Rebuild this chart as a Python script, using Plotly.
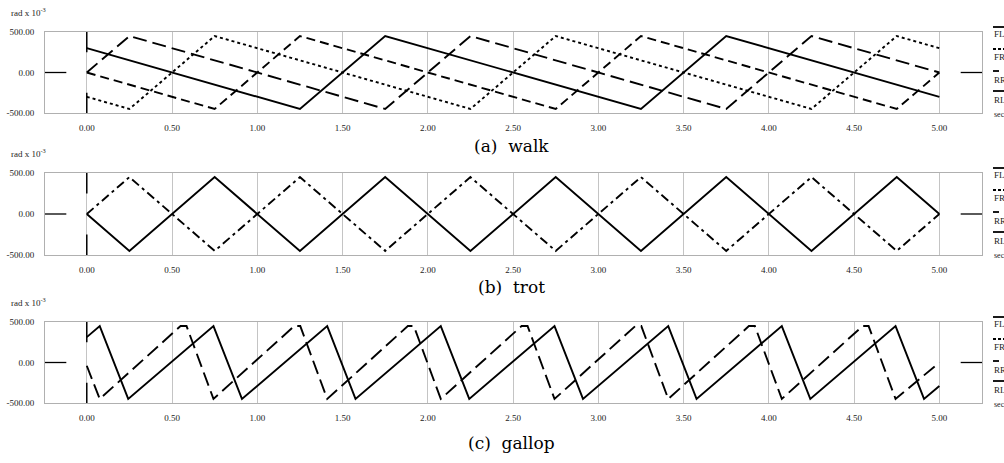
import plotly.graph_objects as go

W, H = 1004, 463

# ---------------- data ----------------
x_ticks = [0.0, 0.5, 1.0, 1.5, 2.0, 2.5, 3.0, 3.5, 4.0, 4.5, 5.0]
x_tick_labels = ["0.00", "0.50", "1.00", "1.50", "2.00", "2.50", "3.00", "3.50", "4.00", "4.50", "5.00"]
y_ticks = [-500, 0, 500]
y_tick_labels = ["-500.00", "0.00", "500.00"]
legend_labels = ["FL", "FR", "RR", "RL"]
captions = ["(a)  walk", "(b)  trot", "(c)  gallop"]

# walk (rad x 1e-3 vs sec)
walk_fl_t = [0.0, 1.25, 1.75, 3.25, 3.75, 5.0]
walk_fl_v = [300, -450, 450, -450, 450, -300]
walk_fr_t = [0.0, 0.25, 1.75, 2.25, 3.75, 4.25, 5.0]
walk_fr_v = [0, 450, -450, 450, -450, 450, 0]
walk_rr_t = [0.0, 0.75, 1.25, 2.75, 3.25, 4.75, 5.0]
walk_rr_v = [0, -450, 450, -450, 450, -450, 0]
walk_rl_t = [0.0, 0.25, 0.75, 2.25, 2.75, 4.25, 4.75, 5.0]
walk_rl_v = [-300, -450, 450, -450, 450, -450, 450, 300]

# trot
trot_t = [0.0, 0.25, 0.75, 1.25, 1.75, 2.25, 2.75, 3.25, 3.75, 4.25, 4.75, 5.0]
trot_a_v = [0, -450, 450, -450, 450, -450, 450, -450, 450, -450, 450, 0]
trot_b_v = [0, 450, -450, 450, -450, 450, -450, 450, -450, 450, -450, 0]

# gallop
gallop_a_t = [0.0, 0.076, 0.243, 0.743, 0.91, 1.41, 1.576, 2.076, 2.243, 2.743, 2.91,
              3.41, 3.576, 4.076, 4.243, 4.743, 4.91, 5.0]
gallop_a_v = [313, 450, -450, 450, -450, 450, -450, 450, -450, 450, -450,
              450, -450, 450, -450, 450, -450, -290]
gallop_b_t = [0.0, 0.076, 0.55, 0.585, 0.743, 1.217, 1.252, 1.41, 1.883, 1.918, 2.076,
              2.55, 2.585, 2.743, 3.217, 3.252, 3.41, 3.883, 3.918, 4.076,
              4.55, 4.585, 4.743, 5.0]
gallop_b_v = [-40, -450, 450, 450, -450, 450, 450, -450, 450, 450, -450,
              450, 450, -450, 450, 450, -450, 450, 450, -450,
              450, 450, -450, 0]

# ---------------- styling / layout ----------------
X_RANGE = [-0.245, 5.25]
Y_RANGE = [-500, 500]
STUB_Y = 250          # black stubs on the t=0 axis
STUB_X_LEFT = -0.12   # black stub on the left at y=0
STUB_X_RIGHT = 5.125  # black stub on the right at y=0

BOX_L, BOX_R = 45, 982
panels_px = [(32, 113), (173, 255), (322, 403)]  # (top, bottom) in px
caption_px = [146, 287, 443]

SERIF = "Liberation Serif"
CAP_FONT = "DejaVu Serif"

series = [
    [(walk_fl_t, walk_fl_v, "solid"),
     (walk_fr_t, walk_fr_v, "14px,6px"),
     (walk_rr_t, walk_rr_v, "9px,5px"),
     (walk_rl_t, walk_rl_v, "3px,3px")],
    [(trot_t, trot_a_v, "solid"),
     (trot_t, trot_b_v, "9px,4px,3px,4px")],
    [(gallop_a_t, gallop_a_v, "solid"),
     (gallop_b_t, gallop_b_v, "14px,6px")],
]

fig = go.Figure()
shapes = []
annotations = []

def py(px):
    return 1 - px / H

def px_x(px):
    return px / W

layout = dict(
    width=W, height=H,
    margin=dict(l=0, r=0, t=0, b=0, autoexpand=False),
    paper_bgcolor="white", plot_bgcolor="white",
    showlegend=False,
)

for i, (top, bot) in enumerate(panels_px):
    n = i + 1
    xa = "x" if n == 1 else f"x{n}"
    ya = "y" if n == 1 else f"y{n}"
    xkey = "xaxis" if n == 1 else f"xaxis{n}"
    ykey = "yaxis" if n == 1 else f"yaxis{n}"
    layout[xkey] = dict(
        domain=[px_x(BOX_L), px_x(BOX_R)], range=X_RANGE, anchor=ya,
        tickvals=x_ticks, ticktext=x_tick_labels, ticks="",
        showgrid=True, gridcolor="#c4c4c4", gridwidth=1,
        showline=True, mirror=True, linecolor="#b0b0b0", linewidth=1,
        zeroline=False, tickfont=dict(family=SERIF, size=9, color="#222"),
        ticklabelstandoff=6, fixedrange=True,
    )
    layout[ykey] = dict(
        domain=[py(bot), py(top)], range=Y_RANGE, anchor=xa,
        tickvals=y_ticks, ticktext=y_tick_labels, ticks="",
        showgrid=False, showline=True, mirror=True, linecolor="#b0b0b0", linewidth=1,
        zeroline=False, tickfont=dict(family=SERIF, size=9, color="#222"),
        ticklabelstandoff=8, fixedrange=True,
    )
    for t, v, dash in series[i]:
        fig.add_trace(go.Scatter(x=t, y=v, mode="lines", xaxis=xa, yaxis=ya,
                                 line=dict(color="black", width=1.9, dash=dash),
                                 hoverinfo="skip"))
    # axis stubs
    for y0, y1 in [(Y_RANGE[1], STUB_Y), (-STUB_Y, Y_RANGE[0])]:
        shapes.append(dict(type="line", xref=xa, yref=ya, x0=0, x1=0, y0=y0, y1=y1,
                           line=dict(color="black", width=1.5)))
    shapes.append(dict(type="line", xref=xa, yref=ya, x0=X_RANGE[0], x1=STUB_X_LEFT, y0=0, y1=0,
                       line=dict(color="black", width=1.3)))
    shapes.append(dict(type="line", xref=xa, yref=ya, x0=STUB_X_RIGHT, x1=X_RANGE[1], y0=0, y1=0,
                       line=dict(color="black", width=1.3)))
    # unit label
    annotations.append(dict(text="rad x 10<sup>-3</sup>", xref="paper", yref="paper",
                            x=px_x(9), y=py(top - 20), xanchor="left", yanchor="middle",
                            showarrow=False, font=dict(family=SERIF, size=9, color="#222")))
    # legend (cut at the right edge as in the original)
    leg_lines = [(-5, "solid", 1004), (17, "3px,2px", 1004), (39, "solid", 999), (59, "solid", 1004)]
    leg_text_dy = [2, 25, 48, 68]
    for (dy, dash, xend), lab, tdy in zip(leg_lines, legend_labels, leg_text_dy):
        shapes.append(dict(type="line", xref="paper", yref="paper",
                           x0=px_x(993), x1=px_x(xend), y0=py(top + dy), y1=py(top + dy),
                           line=dict(color="black", width=1.8, dash=dash)))
        annotations.append(dict(text=lab, xref="paper", yref="paper",
                                x=px_x(992), y=py(top + tdy), xanchor="left", yanchor="middle",
                                showarrow=False, font=dict(family=SERIF, size=9, color="#222")))
    annotations.append(dict(text="sec", xref="paper", yref="paper",
                            x=px_x(992), y=py(top + 82), xanchor="left", yanchor="middle",
                            showarrow=False, font=dict(family=SERIF, size=8, color="#222")))
    # caption
    annotations.append(dict(text=captions[i], xref="paper", yref="paper",
                            x=px_x(511), y=py(caption_px[i]), xanchor="center", yanchor="middle",
                            showarrow=False, font=dict(family=CAP_FONT, size=17, color="black")))

layout["shapes"] = shapes
layout["annotations"] = annotations
fig.update_layout(**layout)
fig.write_html("out.html",
               config={"displayModeBar": False},
               post_script="document.body.style.margin='0px';"
                           "document.documentElement.style.overflow='hidden';")
